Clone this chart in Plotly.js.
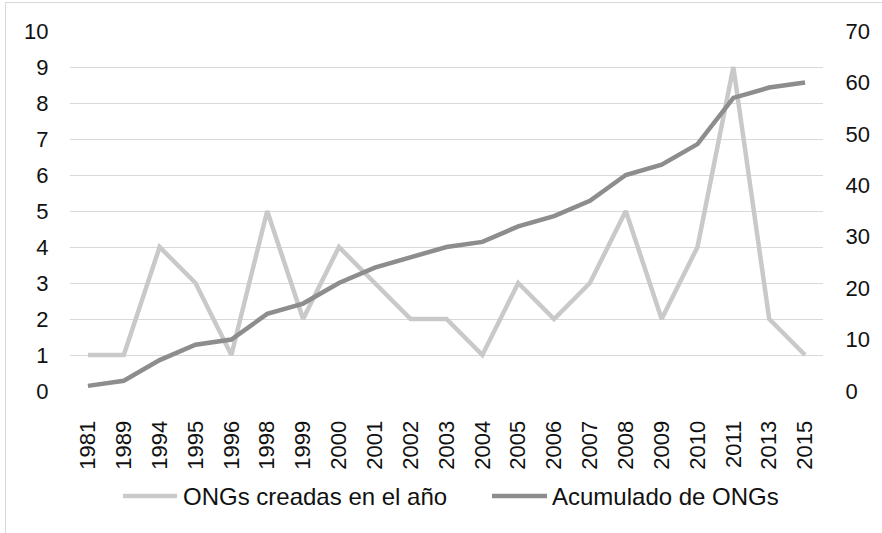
<!DOCTYPE html>
<html>
<head>
<meta charset="utf-8">
<script src="https://cdn.plot.ly/plotly-3.0.1.min.js"></script>
<style>
html,body{margin:0;padding:0;background:#fff;}
#wrap{position:relative;width:882px;height:533px;}
#frame{position:absolute;left:5px;top:2px;width:900px;height:600px;border-left:1px solid #d9d9d9;border-top:1px solid #d9d9d9;pointer-events:none;}
#chart{position:absolute;left:0;top:0;width:882px;height:533px;}
</style>
</head>
<body>
<div id="wrap"><div id="chart"></div><div id="frame"></div></div>
<script>
const years = ["1981","1989","1994","1995","1996","1998","1999","2000","2001","2002","2003","2004","2005","2006","2007","2008","2009","2010","2011","2013","2015"];
const creadas = [1,1,4,3,1,5,2,4,3,2,2,1,3,2,3,5,2,4,9,2,1];
const acumulado = [1,2,6,9,10,15,17,21,24,26,28,29,32,34,37,42,44,48,57,59,60];
const leftTicks = [0,1,2,3,4,5,6,7,8,9,10];
const rightTicks = [0,10,20,30,40,50,60,70];
const seriesNames = ["ONGs creadas en el año", "Acumulado de ONGs"];
const seriesColors = ["#c9c9c9", "#8d8d8d"];

const traces = [
  {x: years, y: creadas, name: seriesNames[0], type: "scatter", mode: "lines",
   line: {color: seriesColors[0], width: 4.5}, yaxis: "y", showlegend: false},
  {x: years, y: acumulado, name: seriesNames[1], type: "scatter", mode: "lines",
   line: {color: seriesColors[1], width: 4.5}, yaxis: "y2", showlegend: false}
];

// manual legend (paper coordinates)
const legY = -0.292;
const legItems = [{x0: 0.0704, x1: 0.1421, tx: 0.1480}, {x0: 0.5604, x1: 0.6335, tx: 0.6370}];
const shapes = legItems.map((it, i) => ({
  type: "line", xref: "paper", yref: "paper", x0: it.x0, x1: it.x1, y0: legY, y1: legY,
  line: {color: seriesColors[i], width: 4.5}
}));
const annotations = legItems.map((it, i) => ({
  xref: "paper", yref: "paper", x: it.tx, y: legY, xanchor: "left", yanchor: "middle",
  text: seriesNames[i], showarrow: false, font: {size: 24, color: "#111"}
}));

const noTick = "rgba(0,0,0,0)";
const layout = {
  width: 882, height: 533,
  margin: {l: 70, r: 59, t: 31, b: 142},
  paper_bgcolor: "#fff", plot_bgcolor: "#fff",
  font: {family: "Liberation Sans, Arial, sans-serif", size: 22, color: "#111"},
  showlegend: false,
  shapes: shapes,
  annotations: annotations,
  xaxis: {type: "category", tickangle: -90, showgrid: false, zeroline: false,
          showline: false, ticks: "outside", ticklen: 20, tickcolor: noTick,
          range: [-0.5, 20.5], automargin: false, tickfont: {size: 22}},
  yaxis: {range: [0, 10], tickvals: leftTicks, ticktext: leftTicks.map(String),
          showgrid: true, gridcolor: "#d9d9d9", gridwidth: 1, zeroline: false,
          showline: false, ticks: "outside", ticklen: 16, tickcolor: noTick,
          automargin: false, tickfont: {size: 22}},
  yaxis2: {range: [0, 70], tickvals: rightTicks, ticktext: rightTicks.map(String),
           overlaying: "y", side: "right", anchor: "x", showgrid: false, zeroline: false,
           showline: false, ticks: "outside", ticklen: 17, tickcolor: noTick,
           automargin: false, tickfont: {size: 22}}
};

Plotly.newPlot("chart", traces, layout, {displayModeBar: false, staticPlot: true});
</script>
</body>
</html>
